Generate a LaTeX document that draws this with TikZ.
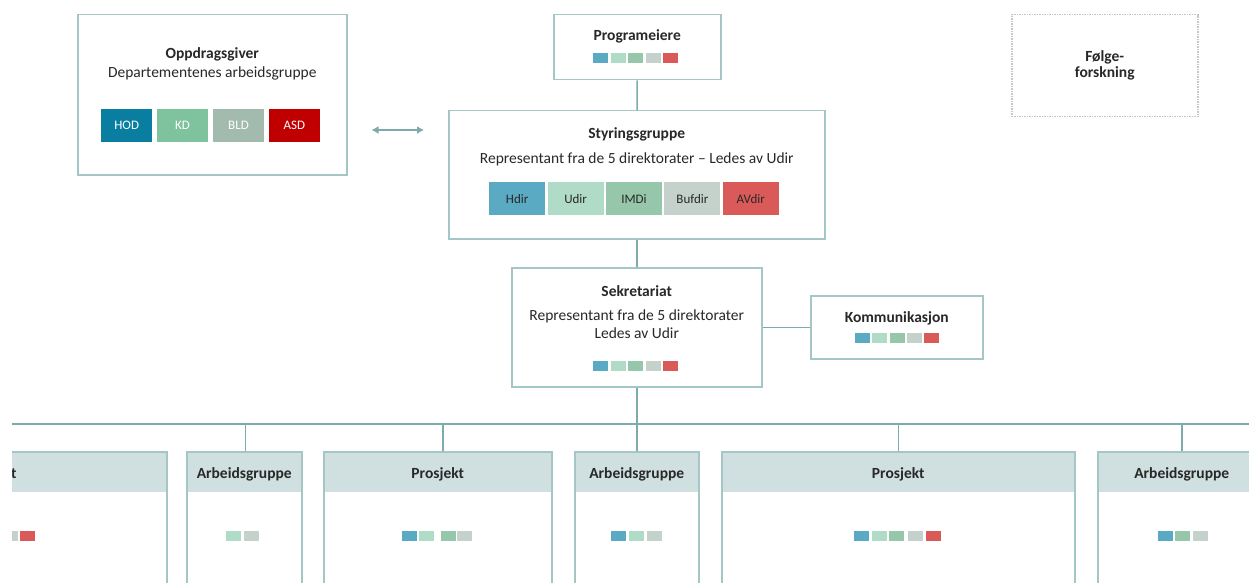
\documentclass[tikz,border=0pt]{standalone}
\usepackage{fontspec}
\setmainfont{Carlito}
\usetikzlibrary{positioning,arrows.meta}

\definecolor{boxline}{RGB}{165,198,198}
\definecolor{linkline}{RGB}{125,170,170}
\definecolor{headfill}{RGB}{208,224,224}
\definecolor{hodcol}{RGB}{10,126,160}
\definecolor{kdcol}{RGB}{127,195,158}
\definecolor{bldcol}{RGB}{163,187,175}
\definecolor{asdcol}{RGB}{192,0,0}
\definecolor{hdircol}{RGB}{90,170,196}
\definecolor{udircol}{RGB}{176,219,199}
\definecolor{imdicol}{RGB}{150,199,170}
\definecolor{bufdircol}{RGB}{196,210,203}
\definecolor{avdircol}{RGB}{218,90,90}
\definecolor{txt}{RGB}{40,40,40}

% row of small direktorat squares: #1 = top y, #2 = x/colour list
\newcommand{\dirsq}[2]{%
  \foreach \sx/\sc in {#2} \fill[\sc] (\sx,#1) rectangle ++(15,10);}

\begin{document}
\begin{tikzpicture}[x=1pt,y=-1pt,
    every node/.style={text=txt},
    box/.style={draw=boxline,line width=1.5pt,fill=white,inner sep=0pt,anchor=north west},
    unit/.style={box,minimum height=200pt,
      path picture={\fill[headfill] (path picture bounding box.north west)
        rectangle ([yshift=-40pt]path picture bounding box.north east);}},
    title/.style={font=\bfseries\fontsize{15.5}{18}\selectfont,anchor=base,inner sep=0pt},
    sub/.style={font=\fontsize{15.5}{18}\selectfont,anchor=base,inner sep=0pt},
    dept/.style={minimum width=51pt,minimum height=33pt,inner sep=0pt,
      font=\fontsize{13}{15}\selectfont},
    link/.style={draw=linkline,line width=1.5pt}]
\useasboundingbox (0,0) rectangle (1249,583);
\begin{scope}
\clip (12,0) rectangle (1249,583);

% top level
\node[box,minimum width=269pt,minimum height=160pt] (opp) at (77,14) {};
\node[title] (oppT) at ([yshift=-45pt]opp.north) {Oppdragsgiver};
\node[sub] (oppS) at ([yshift=-64pt]opp.north) {Departementenes arbeidsgruppe};
\node[dept,fill=hodcol,text=white,anchor=north west] (hod) at (101,109) {HOD};
\node[dept,fill=kdcol,text=white,right=4.5pt of hod] (kd) {KD};
\node[dept,fill=bldcol,text=white,right=4.5pt of kd] (bld) {BLD};
\node[dept,fill=asdcol,text=white,right=4.5pt of bld] (asd) {ASD};

\node[box,minimum width=167pt,minimum height=65pt] (prog) at (553,14) {};
\node[title] (progT) at ([yshift=-27pt]prog.north) {Programeiere};
\dirsq{53}{593/hdircol,611/udircol,628/imdicol,646/bufdircol,663/avdircol}

\node[box,minimum width=186pt,minimum height=102pt,draw=gray!45,
  dash pattern=on 1.5pt off 1pt] (folge) at (1011,14) {};
\node[title] (folgeA) at ([yshift=-48pt]folge.north) {Følge-};
\node[title] (folgeB) at ([yshift=-64pt]folge.north) {forskning};

\node[box,minimum width=376pt,minimum height=128pt] (styr) at (448,110) {};
\node[title] (styrT) at ([yshift=-29pt]styr.north) {Styringsgruppe};
\node[sub] (styrS) at ([yshift=-53pt]styr.north)
  {Representant fra de 5 direktorater – Ledes av Udir};
\node[dept,minimum width=56pt,fill=hdircol,anchor=north west] (hdir) at (489,182) {Hdir};
\node[dept,minimum width=56pt,fill=udircol,right=2pt of hdir] (udir) {Udir};
\node[dept,minimum width=56pt,fill=imdicol,right=2pt of udir] (imdi) {IMDi};
\node[dept,minimum width=56pt,fill=bufdircol,right=2pt of imdi] (bufdir) {Bufdir};
\node[dept,minimum width=56pt,fill=avdircol,right=2pt of bufdir] (avdir) {AVdir};

\coordinate (arrowy) at (0,130);
\draw[link,{Latex[length=7pt,width=8pt]}-{Latex[length=7pt,width=8pt]},
  shorten <=24pt,shorten >=24pt] (opp.east |- arrowy) -- (styr.west |- arrowy);

% sekretariat
\node[box,minimum width=250pt,minimum height=119pt] (sekr) at (511,267) {};
\node[title] (sekrT) at ([yshift=-29pt]sekr.north) {Sekretariat};
\node[sub] (sekrS) at ([yshift=-53pt]sekr.north) {Representant fra de 5 direktorater};
\node[sub] (sekrL) at ([yshift=-71pt]sekr.north) {Ledes av Udir};
\dirsq{361}{593/hdircol,611/udircol,628/imdicol,646/bufdircol,663/avdircol}

\node[box,minimum width=172pt,minimum height=63pt] (komm) at (810,295) {};
\node[title] (kommT) at ([yshift=-27pt]komm.north) {Kommunikasjon};
\dirsq{333}{855/hdircol,872/udircol,890/imdicol,907/bufdircol,924/avdircol}

\draw[link] (prog) -- (styr);
\draw[link] (styr) -- (sekr);
\draw[link] (sekr) -- (komm);

% prosjekter og arbeidsgrupper
\foreach \n/\x/\w/\t in {p1/-187/353/Prosjekt, a1/186/115/Arbeidsgruppe,
    p2/323/228/Prosjekt, a2/574/124/Arbeidsgruppe,
    p3/721/353/Prosjekt, a3/1097/168/Arbeidsgruppe}{
  \node[unit,minimum width=\w pt] (\n) at (\x,451) {};
  \node[title] (\n T) at ([yshift=-27pt]\n.north) {\t};
}
\dirsq{531}{-54/hdircol,-36/udircol,-19/imdicol,3/bufdircol,20/avdircol}
\dirsq{531}{226/udircol,244/bufdircol}
\dirsq{531}{402/hdircol,419/udircol,441/imdicol,457/bufdircol}
\dirsq{531}{611/hdircol,629/udircol,647/bufdircol}
\dirsq{531}{854/hdircol,872/udircol,889/imdicol,908/bufdircol,926/avdircol}
\dirsq{531}{1158/hdircol,1175/imdicol,1193/bufdircol}

\coordinate (busL) at (12,424);
\coordinate (busR) at (1249,424);
\draw[link] (busL) -- (busR);
\draw[link] (sekr.south) -- (sekr.south |- busL);
\foreach \n/\s in {a1/1,p2/5,a2/0,p3/0,a3/0}
  \draw[link] ([xshift=\s pt]\n.north) -- ([xshift=\s pt]\n.north |- busL);
\end{scope}
\end{tikzpicture}
\end{document}
